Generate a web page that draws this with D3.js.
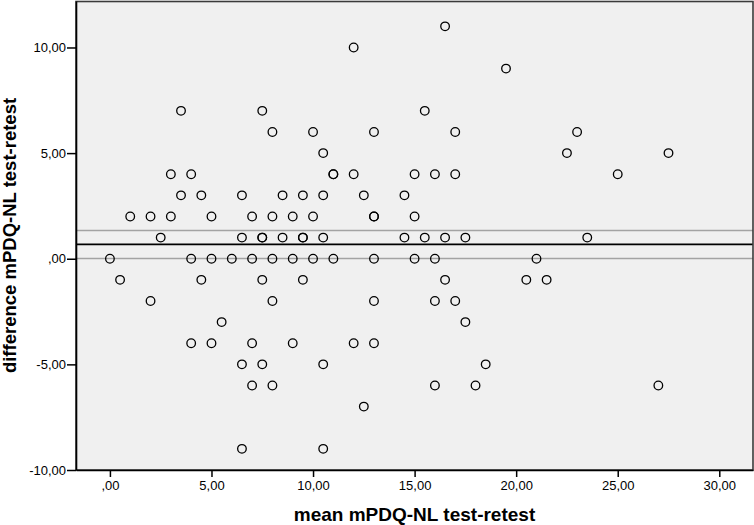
<!DOCTYPE html>
<html lang="en">

<head>
    <meta charset="UTF-8">
    <title>Bland-Altman mPDQ-NL</title>
    <script src="https://d3js.org/d3.v7.min.js"></script>
    <style>
        body {
            margin: 0;
            background: #fff;
        }

        text {
            font-family: "Liberation Sans", Arial, sans-serif;
            fill: #000;
        }

        .tick-label {
            font-size: 13px;
        }

        .axis-title {
            font-size: 19px;
            font-weight: bold;
        }
    </style>
</head>

<body>
    <svg></svg>
    <script>
        const width = 754;
        const height = 525;

        // mean of test and retest (x) and their difference (y), one entry per patient
        const meanScores = [
            16.5, 12, 19.5,
            3.5, 7.5, 15.5,
            8, 10, 13, 17, 23,
            10.5, 22.5, 27.5,
            3, 4, 11, 11, 12, 15, 16, 17, 25,
            3.5, 4.5, 6.5, 8.5, 9.5, 10.5, 12.5, 14.5,
            1, 2, 3, 5, 7, 8, 9, 10, 13, 13, 15,
            2.5, 6.5, 7.5, 7.5, 8.5, 9.5, 9.5, 10.5, 14.5, 15.5, 16.5, 17.5, 23.5,
            0, 4, 5, 6, 7, 8, 9, 10, 11, 13, 15, 16, 21,
            0.5, 4.5, 7.5, 9.5, 16.5, 20.5, 21.5,
            2, 8, 13, 16, 17,
            5.5, 17.5,
            4, 5, 7, 9, 12, 13,
            6.5, 7.5, 10.5, 18.5,
            7, 8, 16, 18, 27,
            12.5,
            6.5, 10.5
        ];
        const diffScores = [
            11, 10, 9,
            7, 7, 7,
            6, 6, 6, 6, 6,
            5, 5, 5,
            4, 4, 4, 4, 4, 4, 4, 4, 4,
            3, 3, 3, 3, 3, 3, 3, 3,
            2, 2, 2, 2, 2, 2, 2, 2, 2, 2, 2,
            1, 1, 1, 1, 1, 1, 1, 1, 1, 1, 1, 1, 1,
            0, 0, 0, 0, 0, 0, 0, 0, 0, 0, 0, 0, 0,
            -1, -1, -1, -1, -1, -1, -1,
            -2, -2, -2, -2, -2,
            -3, -3,
            -4, -4, -4, -4, -4, -4,
            -5, -5, -5, -5,
            -6, -6, -6, -6, -6,
            -7,
            -9, -9
        ];

        // mean difference and its confidence band
        const meanDiff = 0.68;
        const bandLower = 0.01;
        const bandUpper = 1.34;

        const xTicks = [0, 5, 10, 15, 20, 25, 30];
        const yTicks = [-10, -5, 0, 5, 10];

        const plot = { left: 76, right: 753, top: 1, bottom: 470 };

        const svg = d3.select("svg")
            .attr("width", width)
            .attr("height", height);

        const x = d3.scaleLinear()
            .domain([-1.67, 31.66])
            .range([plot.left, plot.right]);

        const y = d3.scaleLinear()
            .domain([-10, 12.2])
            .range([plot.bottom, plot.top]);

        // SPSS style numbers: comma decimals, plain hyphen, no leading zero
        const fmt = v => {
            const s = d3.format(".2f")(v).replace(".", ",").replace("\u2212", "-");
            return s === "0,00" ? ",00" : s;
        };

        svg.append("rect")
            .attr("x", plot.left)
            .attr("y", plot.top)
            .attr("width", plot.right - plot.left)
            .attr("height", plot.bottom - plot.top)
            .attr("fill", "#f0f0f0");

        // reference lines
        svg.append("g")
            .selectAll("line")
            .data([bandLower, bandUpper])
            .enter().append("line")
            .attr("x1", plot.left)
            .attr("x2", plot.right)
            .attr("y1", d => y(d))
            .attr("y2", d => y(d))
            .attr("stroke", "#a3a3a3")
            .attr("stroke-width", 1.5);

        svg.append("line")
            .attr("x1", plot.left)
            .attr("x2", plot.right)
            .attr("y1", y(meanDiff))
            .attr("y2", y(meanDiff))
            .attr("stroke", "#000")
            .attr("stroke-width", 1.6);

        const points = meanScores.map((m, i) => ({ m: m, d: diffScores[i] }));

        svg.append("g")
            .selectAll("circle")
            .data(points)
            .enter().append("circle")
            .attr("cx", d => x(d.m))
            .attr("cy", d => y(d.d))
            .attr("r", 4.3)
            .attr("fill", "none")
            .attr("stroke", "#000")
            .attr("stroke-width", 1.3);

        // frame
        svg.append("rect")
            .attr("x", plot.left)
            .attr("y", plot.top + 0.5)
            .attr("width", plot.right - plot.left)
            .attr("height", plot.bottom - plot.top - 0.5)
            .attr("fill", "none")
            .attr("stroke", "#3a3a3a")
            .attr("stroke-width", 1.6);

        const xAxis = svg.append("g")
            .attr("transform", `translate(0,${plot.bottom})`)
            .call(d3.axisBottom(x).tickValues(xTicks).tickFormat(fmt)
                .tickSizeInner(7).tickSizeOuter(0).tickPadding(4));

        const yAxis = svg.append("g")
            .attr("transform", `translate(${plot.left},0)`)
            .call(d3.axisLeft(y).tickValues(yTicks).tickFormat(fmt)
                .tickSizeInner(9).tickSizeOuter(0).tickPadding(1));

        [xAxis, yAxis].forEach(g => {
            g.attr("font-family", null).attr("font-size", null);
            g.select(".domain").attr("stroke", "#000").attr("stroke-width", 1.6);
            g.selectAll(".tick line").attr("stroke", "#000").attr("stroke-width", 1.5);
            g.selectAll(".tick text").attr("class", "tick-label");
        });

        svg.append("text")
            .attr("class", "axis-title")
            .attr("x", (plot.left + plot.right) / 2)
            .attr("y", 521)
            .attr("text-anchor", "middle")
            .text("mean mPDQ-NL test-retest");

        svg.append("text")
            .attr("class", "axis-title")
            .attr("transform", `translate(16,${(plot.top + plot.bottom) / 2}) rotate(-90)`)
            .attr("text-anchor", "middle")
            .style("font-size", "18.5px")
            .text("difference mPDQ-NL test-retest");
    </script>
</body>

</html>
